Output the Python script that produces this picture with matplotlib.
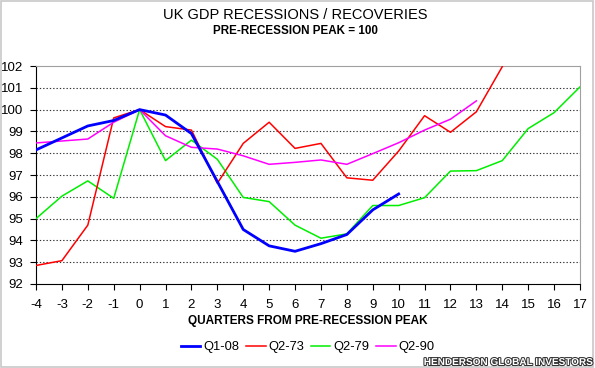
import numpy as np
import matplotlib
matplotlib.use('Agg')
import matplotlib.pyplot as plt
import matplotlib.patheffects as pe

plt.rcParams['font.family'] = ['Liberation Sans', 'DejaVu Sans']
plt.rcParams['axes.unicode_minus'] = False

quarters = list(range(-4, 18))

q1_08 = [98.15, 98.7, 99.25, 99.5, 100.0, 99.75, 98.9, 96.7, 94.5, 93.75,
         93.5, 93.85, 94.27, 95.4, 96.13]
q2_73 = [92.85, 93.07, 94.7, 99.62, 100.0, 99.22, 99.06, 96.62, 98.45, 99.42,
         98.22, 98.45, 96.87, 96.76, 98.1, 99.72, 98.96, 99.9, 101.97]
q2_79 = [95.0, 96.03, 96.73, 95.93, 100.0, 97.66, 98.6, 97.72, 95.97, 95.78,
         94.7, 94.1, 94.3, 95.6, 95.6, 95.96, 97.18, 97.2, 97.66, 99.13,
         99.86, 101.04]
q2_90 = [98.47, 98.56, 98.65, 99.42, 100.0, 98.8, 98.27, 98.19, 97.88, 97.49,
         97.58, 97.69, 97.49, 97.98, 98.48, 99.06, 99.56, 100.4]

fig = plt.figure(figsize=(5.95, 3.68), dpi=100)
ax = fig.add_axes([36/595, 1-284/368, 544/595, 218/368])

ax.plot(quarters[:len(q1_08)], q1_08, color='#0000ff', lw=2.0, label='Q1-08', zorder=5)
ax.plot(quarters[:len(q2_73)], q2_73, color='#ff0000', lw=1.1, label='Q2-73', zorder=4)
ax.plot(quarters[:len(q2_79)], q2_79, color='#00ee00', lw=1.1, label='Q2-79', zorder=3)
ax.plot(quarters[:len(q2_90)], q2_90, color='#ff00ff', lw=1.1, label='Q2-90', zorder=4)

ax.set_xlim(-4, 17)
ax.set_ylim(92, 102)
ax.set_xticks(quarters)
ax.set_yticks(range(92, 103))
for v in range(93, 102):
    ax.axhline(v, color='#333333', lw=0.8, ls=(0, (1.2, 1.8)), zorder=1)

ax.tick_params(axis='both', labelsize=9.5, length=4, width=0.8, direction='out', pad=5)
ax.tick_params(axis='x', pad=7)
ax.spines['top'].set_color('#a0a0a0')
ax.spines['right'].set_color('#a0a0a0')
ax.spines['left'].set_linewidth(0.8)
ax.spines['bottom'].set_linewidth(0.8)

fig.text(0.497, 1-15/368, 'UK GDP RECESSIONS / RECOVERIES', ha='center', va='center',
         fontsize=10.5)
fig.text(0.497, 1-31/368, 'PRE-RECESSION PEAK = 100', ha='center', va='center',
         fontsize=8.4, fontweight='bold')
fig.text(308/595, 1-321/368, 'QUARTERS FROM PRE-RECESSION PEAK', ha='center', va='center',
         fontsize=8.5, fontweight='bold')

fig.legend(loc='center', bbox_to_anchor=(308/595, 1-347/368), ncol=4, frameon=False,
           fontsize=9.3, handlelength=1.5, handletextpad=0.25, columnspacing=0.5)

fig.text(0.995, 1-362/368, 'HENDERSON GLOBAL INVESTORS', ha='right', va='center',
         fontsize=7.2, fontweight='bold', color='white',
         path_effects=[pe.withStroke(linewidth=1.5, foreground='#333333')])

border = plt.Rectangle((0.002, 0.003), 0.995, 0.994, transform=fig.transFigure,
                       fill=False, ec='#c8c8c8', lw=1.2)
fig.patches.append(border)

fig.savefig('out.png', dpi=100)
